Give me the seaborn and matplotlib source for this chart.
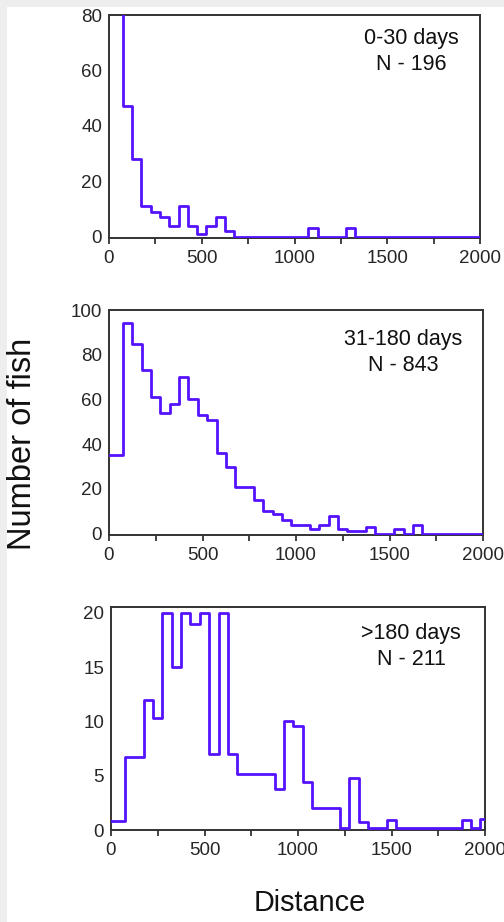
import numpy as np
import pandas as pd
import matplotlib
matplotlib.use("Agg")
import matplotlib.pyplot as plt
from matplotlib.patches import Rectangle
import seaborn as sns

# Distance classes (bin centres, 50 m wide) and fish counts per class
distance = np.arange(0, 2001, 50)

counts_0_30 = [95, 95, 47, 28, 11, 9, 7, 4, 11, 4, 1, 4, 7, 2,
               0, 0, 0, 0, 0, 0, 0, 0, 3, 0, 0, 0, 3, 0,
               0, 0, 0, 0, 0, 0, 0, 0, 0, 0, 0, 0, 0]
counts_31_180 = [35, 35, 94, 85, 73, 61, 54, 58, 70, 60, 53, 51, 36, 30,
                 21, 21, 15, 10, 9, 6, 4, 4, 2, 4, 8, 2, 1, 1,
                 3, 0, 0, 2, 0, 4, 0, 0, 0, 0, 0, 0, 0]
counts_180 = [0.8, 0.8, 6.7, 6.7, 12, 10.3, 20, 15, 20, 19, 20, 7, 20, 7,
              5.2, 5.2, 5.2, 5.2, 3.8, 10, 9.6, 4.4, 2, 2, 2, 0.2, 4.8, 0.7,
              0.2, 0.2, 0.9, 0.2, 0.2, 0.2, 0.2, 0.2, 0.2, 0.2, 0.9, 0.2, 1]

periods = ["0-30 days", "31-180 days", ">180 days"]
sample_sizes = [196, 843, 211]
y_limits = [(-0.5, 80), (-0.6, 100), (0, 20.55)]
y_ticks = [[0, 20, 40, 60, 80], [0, 20, 40, 60, 80, 100], [0, 5, 10, 15, 20]]
x_ticks = np.arange(0, 2001, 250)

sns.set_style("white")
plt.rcParams["font.family"] = ["Liberation Sans", "DejaVu Sans"]

LINE = "#5512ff"
SPINE = "#333333"

fig = plt.figure(figsize=(5.04, 9.22), dpi=100)

# light grey frame strips along the top and left edge
fig.patches.append(Rectangle((0, 1 - 7 / 922), 1, 7 / 922, transform=fig.transFigure,
                             facecolor="#eeeeee", edgecolor="none", zorder=0))
fig.patches.append(Rectangle((0, 0), 7 / 504, 1, transform=fig.transFigure,
                             facecolor="#eeeeee", edgecolor="none", zorder=0))

boxes = [
    (109 / 504, 1 - 238 / 922, 371 / 504, 223 / 922),
    (109 / 504, 1 - 535 / 922, 374 / 504, 225 / 922),
    (111 / 504, 1 - 830 / 922, 374 / 504, 223 / 922),
]
label_pos = [(0.814, 0.838), (0.786, 0.811), (0.802, 0.823)]

for i, (box, counts) in enumerate(zip(boxes, [counts_0_30, counts_31_180, counts_180])):
    ax = fig.add_axes(box)
    df = pd.DataFrame({"distance": distance, "fish": counts})
    sns.histplot(data=df, x="distance", weights="fish", binwidth=50,
                 binrange=(-25, 2025), element="step", fill=False,
                 color=LINE, linewidth=2.0, ax=ax)
    for ln in ax.lines:
        ln.set_zorder(3)
    ax.set_xlim(0, 2000)
    ax.set_ylim(*y_limits[i])
    ax.set_xticks(x_ticks)
    ax.set_xticklabels([str(int(t)) if t % 500 == 0 else "" for t in x_ticks])
    ax.set_yticks(y_ticks[i])
    ax.set_yticklabels([str(t) for t in y_ticks[i]])
    ax.tick_params(axis="x", direction="out", length=4.5, width=1.3, color=SPINE,
                   labelsize=13.5, pad=4, bottom=True)
    ax.tick_params(axis="y", length=0, labelsize=13.5, pad=5)
    for s in ax.spines.values():
        s.set_color(SPINE)
        s.set_linewidth(1.4)
    ax.set_xlabel("")
    ax.set_ylabel("")
    ax.text(label_pos[i][0], label_pos[i][1],
            f"{periods[i]}\nN - {sample_sizes[i]}",
            transform=ax.transAxes, ha="center", va="center",
            fontsize=15.5, linespacing=1.3, color="#111111")

fig.text(23 / 504, 1 - 444 / 922, "Number of fish", rotation=90,
         ha="center", va="center", fontsize=23.5, color="#111111")
fig.text(310 / 504, 1 - 903 / 922, "Distance", ha="center", va="center",
         fontsize=20.8, color="#111111")

fig.savefig("out.png", dpi=100, facecolor="white")
